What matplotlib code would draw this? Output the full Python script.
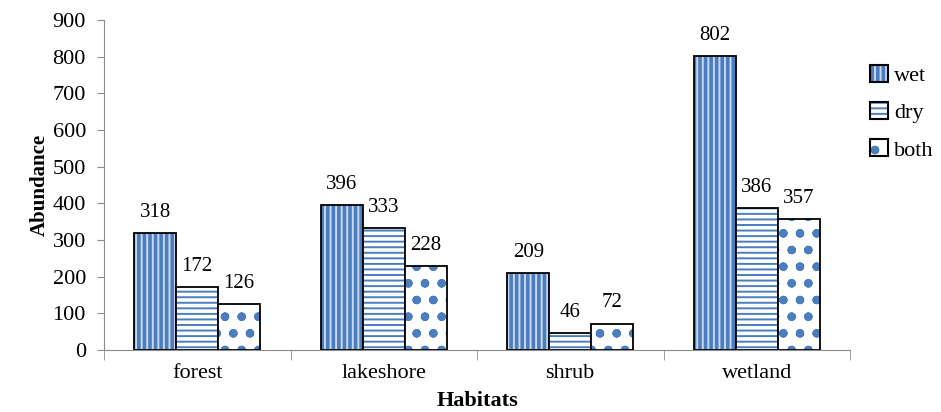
import numpy as np
import matplotlib.pyplot as plt
from matplotlib.patches import Patch
from matplotlib.legend_handler import HandlerTuple

# Abundance by habitat and season
habitats = ['forest', 'lakeshore', 'shrub', 'wetland']
wet = [318, 396, 209, 802]
dry = [172, 333, 46, 386]
both = [126, 228, 72, 357]

plt.rcParams['font.family'] = ['Liberation Serif', 'DejaVu Serif']
plt.rcParams['hatch.linewidth'] = 1.4

blue = '#4a7ebf'
grey = '#8c8c8c'

fig = plt.figure(figsize=(9.41, 4.12), dpi=100)
ax = fig.add_axes([104/941, 62/412, 746/941, 330/412])

x = np.arange(len(habitats))
w = 0.225

series = [
    (wet, 'wet', blue, '|||', '#c9d8ee'),
    (dry, 'dry', 'white', '---', blue),
    (both, 'both', 'white', 'o.', blue),
]

handles = []
for i, (vals, name, fc, hatch, hc) in enumerate(series):
    pos = x + (i - 1) * w
    # hatched fill first, then a black outline on top
    ax.bar(pos, vals, w, color=fc, edgecolor=hc, hatch=hatch, linewidth=0)
    ax.bar(pos, vals, w, fill=False, edgecolor='black', linewidth=1.3)
    for p, v in zip(pos, vals):
        ax.annotate(str(v), (p, v), xytext=(0, 8), textcoords='offset points',
                    ha='center', va='bottom', fontsize=15)
    handles.append((Patch(facecolor=fc, edgecolor=hc, hatch=hatch, linewidth=0),
                    Patch(fill=False, edgecolor='black', linewidth=1.5)))

ax.set_xlim(-0.5, 3.5)
ax.set_ylim(0, 900)
ax.set_yticks(range(0, 901, 100))
ax.set_xticks(x)
ax.set_xticklabels(habitats)
ax.set_xticks(np.arange(-0.5, 4, 1), minor=True)
ax.tick_params(axis='x', which='major', length=0, labelsize=16, pad=10)
ax.tick_params(axis='x', which='minor', length=7, color=grey)
ax.tick_params(axis='y', length=5, color=grey, labelsize=16, pad=8)

for s in ['top', 'right']:
    ax.spines[s].set_visible(False)
for s in ['left', 'bottom']:
    ax.spines[s].set_color(grey)

ax.set_ylabel('Abundance', fontsize=15, fontweight='bold', labelpad=2)
ax.set_xlabel('Habitats', fontsize=16, fontweight='bold', labelpad=6)

fig.legend(handles, ['wet', 'dry', 'both'], loc='upper left',
           bbox_to_anchor=(861/941, 1 - 56/412), frameon=False,
           fontsize=16, labelspacing=0.72, handlelength=0.8, handleheight=0.8,
           handletextpad=0.3, borderaxespad=0,
           handler_map={tuple: HandlerTuple(ndivide=1, pad=0)})

fig.savefig('out.png', dpi=100)
